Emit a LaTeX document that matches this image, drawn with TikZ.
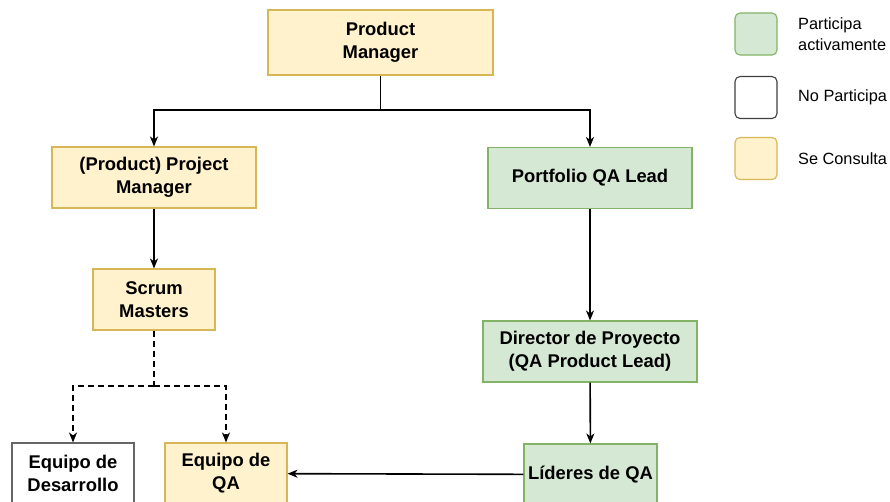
\documentclass[tikz,border=0pt]{standalone}
\usepackage{fontspec}
\setmainfont{Liberation Sans}
\usetikzlibrary{arrows.meta}
\definecolor{actfill}{HTML}{D5E8D4}
\definecolor{actline}{HTML}{82B366}
\definecolor{consfill}{HTML}{FFF2CC}
\definecolor{consline}{HTML}{D6B656}
\begin{document}
\begin{tikzpicture}[x=1pt,y=-1pt,
				>={Stealth[length=10pt,width=8pt,inset=3pt]},
				box/.style={minimum width=#1, minimum height=61pt, inner sep=0, line width=1.1pt, align=center, font=\fontsize{18.4}{23}\selectfont\bfseries},
				activo/.style={box=#1, draw=actline, fill=actfill},
				consulta/.style={box=#1, draw=consline, fill=consfill},
				nopart/.style={box=#1, draw=black!60, fill=white},
				swatch/.style={minimum size=42pt, inner sep=0, rounded corners=5pt, line width=1.1pt},
				legtext/.style={anchor=west, align=left, inner sep=0, font=\fontsize{16.3}{21}\selectfont},
				link/.style={line width=1.6pt}]
				\useasboundingbox (0,0) rectangle (890,501);
				
				\node [consulta=225pt, minimum height=65pt] (pm) at (380.5,42.5) {Product\\Manager};
				\node [consulta=204pt] (ppm) at (154,177.5) {(Product) Project\\Manager};
				\node [activo=204pt] (qalead) at (590,178) {Portfolio QA Lead};
				\node [consulta=122pt] (scrum) at (154,299.5) {Scrum\\Masters};
				\node [activo=214pt] (director) at (590,351.5) {Director de Proyecto\\(QA Product Lead)};
				\node [nopart=122pt] (dev) at (73,473.5) {Equipo de\\Desarrollo};
				\node [consulta=122pt] (qateam) at (226,473.5) {Equipo de\\QA};
				\node [activo=133pt] (lideres) at (590.5,474.5) {Líderes de QA};
				
				% leyenda
				\node [swatch, draw=actline, fill=actfill] (legact) at (756,34) {};
				\node [swatch, draw=black!75, fill=white] (legno) at (756,97.5) {};
				\node [swatch, draw=consline, fill=consfill] (legcons) at (756,158.5) {};
				\node [legtext] (txtact) at (798,34) {Participa\\activamente};
				\node [legtext] (txtno) at (798,97.5) {No Participa};
				\node [legtext] (txtcons) at (798,158.5) {Se Consulta};
				
				\coordinate (split) at (380.5,110);
				\coordinate (dsplit) at (154,386);
				\begin{scope}[link]
				\draw (pm) -- (split);
				\draw [->] (split) -| (ppm.north);
				\draw [->] (split) -| (qalead.north);
				\draw [->] (ppm) -- (scrum);
				\draw [->] (qalead) -- (director);
				\draw [->] (director) -- (lideres);
				\draw [->] (lideres) -- (qateam);
				\begin{scope}[dash pattern=on 6pt off 4pt]
				\draw (scrum) -- (dsplit);
				\draw [->] (dsplit) -| (dev.north);
				\draw [->] (dsplit) -| (qateam.north);
				\end{scope}
				\end{scope}
				\end{tikzpicture}
\end{document}
